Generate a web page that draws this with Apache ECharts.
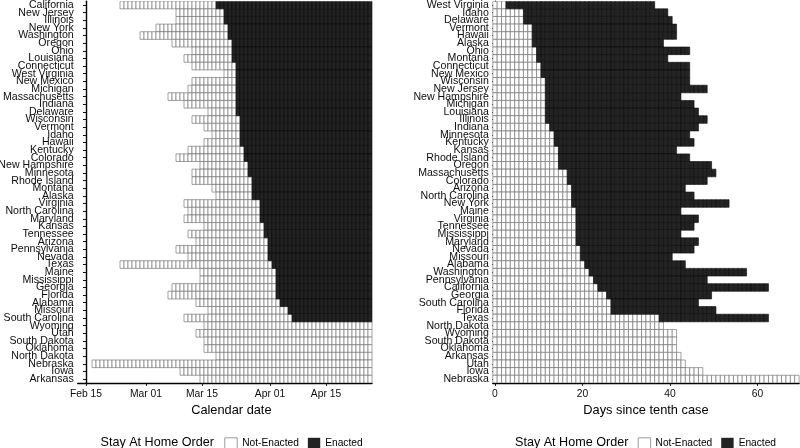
<!DOCTYPE html>
<html>
<head>
<meta charset="utf-8">
<script src="https://cdn.jsdelivr.net/npm/echarts@6/dist/echarts.min.js"></script>
<style>
html,body{margin:0;padding:0;background:#fff;}
#chart{width:800px;height:448px;}
</style>
</head>
<body>
<div id="chart"></div>
<script>
// ---------- DATA ----------
const leftStates = ['California','New Jersey','Illinois','New York','Washington','Oregon','Ohio','Louisiana','Connecticut','West Virginia','New Mexico','Michigan','Massachusetts','Indiana','Delaware','Wisconsin','Vermont','Idaho','Hawaii','Kentucky','Colorado','New Hampshire','Minnesota','Rhode Island','Montana','Alaska','Virginia','North Carolina','Maryland','Kansas','Tennessee','Arizona','Pennsylvania','Nevada','Texas','Maine','Mississippi','Georgia','Florida','Alabama','Missouri','South Carolina','Wyoming','Utah','South Dakota','Oklahoma','North Dakota','Nebraska','Iowa','Arkansas'];

// date of tenth case (same order as leftStates)
const tenthCaseDates = ['2020-02-24','2020-03-09','2020-03-09','2020-03-04','2020-02-29','2020-03-08','2020-03-13','2020-03-11','2020-03-13','2020-03-21','2020-03-13','2020-03-12','2020-03-07','2020-03-11','2020-03-17','2020-03-13','2020-03-16','2020-03-18','2020-03-16','2020-03-12','2020-03-09','2020-03-15','2020-03-13','2020-03-13','2020-03-18','2020-03-19','2020-03-11','2020-03-12','2020-03-11','2020-03-16','2020-03-12','2020-03-14','2020-03-09','2020-03-12','2020-02-24','2020-03-15','2020-03-15','2020-03-08','2020-03-07','2020-03-14','2020-03-17','2020-03-11','2020-03-16','2020-03-14','2020-03-16','2020-03-16','2020-03-19','2020-02-17','2020-03-10','2020-03-15'];

// stay-at-home order date (null = not enacted)
const orderDates = ['2020-03-19','2020-03-21','2020-03-21','2020-03-22','2020-03-22','2020-03-23','2020-03-23','2020-03-23','2020-03-24','2020-03-24','2020-03-24','2020-03-24','2020-03-24','2020-03-24','2020-03-24','2020-03-25','2020-03-25','2020-03-25','2020-03-25','2020-03-26','2020-03-26','2020-03-27','2020-03-27','2020-03-28','2020-03-28','2020-03-28','2020-03-30','2020-03-30','2020-03-30','2020-03-31','2020-03-31','2020-04-01','2020-04-01','2020-04-01','2020-04-02','2020-04-03','2020-04-03','2020-04-03','2020-04-03','2020-04-04','2020-04-06','2020-04-07',null,null,null,null,null,null,null,null];

const lastDate = '2020-04-26';

const rightStates = ['West Virginia','Idaho','Delaware','Vermont','Hawaii','Alaska','Ohio','Montana','Connecticut','New Mexico','Wisconsin','New Jersey','New Hampshire','Michigan','Louisiana','Illinois','Indiana','Minnesota','Kentucky','Kansas','Rhode Island','Oregon','Massachusetts','Colorado','Arizona','North Carolina','New York','Maine','Virginia','Tennessee','Mississippi','Maryland','Nevada','Missouri','Alabama','Washington','Pennsylvania','California','Georgia','South Carolina','Florida','Texas','North Dakota','Wyoming','South Dakota','Oklahoma','Arkansas','Utah','Iowa','Nebraska'];

const dateTickValues = ['2020-02-15','2020-03-01','2020-03-15','2020-04-01','2020-04-15'];
const dateTickLabels = ['Feb 15','Mar 01','Mar 15','Apr 01','Apr 15'];
const dayTickValues = [0, 20, 40, 60];

// ---------- BUILD ----------
const baseTs = Date.UTC(2020, 1, 15);
function dayOf(s) {
  const p = s.split('-').map(Number);
  return Math.round((Date.UTC(p[0], p[1] - 1, p[2]) - baseTs) / 86400000);
}
const endDay = dayOf(lastDate);
const leftNot = [], leftEn = [], rightNot = [], rightEn = [];
leftStates.forEach((st, i) => {
  const T = dayOf(tenthCaseDates[i]);
  const O = orderDates[i] ? dayOf(orderDates[i]) : Infinity;
  for (let d = T; d <= endDay; d++) (d < O ? leftNot : leftEn).push([d, i]);
});
rightStates.forEach((st, r) => {
  const i = leftStates.indexOf(st);
  const T = dayOf(tenthCaseDates[i]);
  const O = orderDates[i] ? dayOf(orderDates[i]) : Infinity;
  for (let k = 0; k <= endDay - T; k++) (T + k < O ? rightNot : rightEn).push([k, r]);
});
const dateTickDays = dateTickValues.map(dayOf);

const FONT = "'Liberation Sans', Arial, Helvetica, sans-serif";
const NOT_STYLE = { fill: '#ffffff', stroke: '#6f6f6f', lineWidth: 0.65 };
const EN_STYLE = { fill: '#232323', stroke: '#0c0c0c', lineWidth: 0.6 };

function tileRenderer(style) {
  return function (params, api) {
    const c = api.coord([api.value(0), api.value(1)]);
    const s = api.size([1, 1]);
    return {
      type: 'rect',
      shape: { x: c[0] - s[0] / 2, y: c[1] - s[1] / 2, width: s[0], height: s[1] },
      style: style
    };
  };
}

const gridTop = 1.2, gridH = 381.7;
const yAxisCommon = {
  type: 'category',
  inverse: true,
  axisLine: { show: true, lineStyle: { color: '#000', width: 1.4 } },
  axisTick: { show: true, alignWithLabel: true, length: 3, lineStyle: { color: '#111', width: 1 } },
  axisLabel: { interval: 0, hideOverlap: false, fontFamily: FONT, fontSize: 10.6, color: '#0d0d0d', margin: 4 },
  splitLine: { show: false }
};
const xAxisCommon = {
  type: 'value',
  axisLine: { show: true, onZero: false, lineStyle: { color: '#000', width: 1.4 } },
  axisTick: { show: true, length: 3, lineStyle: { color: '#111', width: 1 } },
  splitLine: { show: false },
  nameLocation: 'middle',
  nameTextStyle: { fontFamily: FONT, fontSize: 12.8, color: '#000' }
};

const option = {
  animation: false,
  backgroundColor: '#fff',
  title: [
    { text: 'Stay At Home Order', left: 100.5, top: 436, textStyle: { fontFamily: FONT, fontSize: 12.6, fontWeight: 'normal', color: '#000' }, padding: 0 },
    { text: 'Stay At Home Order', left: 515, top: 436, textStyle: { fontFamily: FONT, fontSize: 12.6, fontWeight: 'normal', color: '#000' }, padding: 0 }
  ],
  legend: [
    {
      left: 224.3, top: 437.3, padding: 0, itemWidth: 12.4, itemHeight: 11, itemGap: 9, icon: 'rect', selectedMode: false,
      textStyle: { fontFamily: FONT, fontSize: 10.2, color: '#000' },
      data: [
        { name: 'Not-Enacted', itemStyle: { color: '#fff', borderColor: '#9a9a9a', borderWidth: 1 } },
        { name: 'Enacted', itemStyle: { color: '#232323', borderColor: '#232323', borderWidth: 0 } }
      ]
    },
    {
      left: 637.7, top: 437.3, padding: 0, itemWidth: 12.4, itemHeight: 11, itemGap: 9, icon: 'rect', selectedMode: false,
      textStyle: { fontFamily: FONT, fontSize: 10.2, color: '#000' },
      data: [
        { name: 'Not-Enacted', itemStyle: { color: '#fff', borderColor: '#9a9a9a', borderWidth: 1 } },
        { name: 'Enacted', itemStyle: { color: '#232323', borderColor: '#232323', borderWidth: 0 } }
      ]
    }
  ],
  grid: [
    { left: 77.7, top: gridTop, width: 294.3, height: gridH, containLabel: false, outerBoundsMode: 'none' },
    { left: 492.8, top: gridTop, width: 306.3, height: gridH, containLabel: false, outerBoundsMode: 'none' }
  ],
  xAxis: [
    Object.assign({}, xAxisCommon, {
      gridIndex: 0, min: -2.08, max: 71.5,
      name: 'Calendar date', nameGap: 17.5,
      nameTextStyle: Object.assign({}, xAxisCommon.nameTextStyle, { padding: [0, 0, 0, 13] }),
      axisTick: Object.assign({}, xAxisCommon.axisTick, { customValues: dateTickDays }),
      axisLabel: {
        customValues: dateTickDays, fontFamily: FONT, fontSize: 10.3, color: '#0d0d0d', margin: 6.5,
        formatter: function (v) { const k = dateTickDays.indexOf(Math.round(v)); return k >= 0 ? dateTickLabels[k] : ''; }
      }
    }),
    Object.assign({}, xAxisCommon, {
      gridIndex: 1, min: -0.5, max: 69.5,
      name: 'Days since tenth case', nameGap: 17.5,
      axisTick: Object.assign({}, xAxisCommon.axisTick, { customValues: dayTickValues }),
      axisLabel: { customValues: dayTickValues, fontFamily: FONT, fontSize: 10.3, color: '#0d0d0d', margin: 6.5 }
    })
  ],
  yAxis: [
    Object.assign({}, yAxisCommon, { gridIndex: 0, data: leftStates }),
    Object.assign({}, yAxisCommon, { gridIndex: 1, data: rightStates })
  ],
  series: [
    { name: 'Not-Enacted', type: 'custom', xAxisIndex: 0, yAxisIndex: 0, renderItem: tileRenderer(NOT_STYLE), data: leftNot, clip: true, itemStyle: { color: '#fff', borderColor: '#9a9a9a' } },
    { name: 'Enacted', type: 'custom', xAxisIndex: 0, yAxisIndex: 0, renderItem: tileRenderer(EN_STYLE), data: leftEn, clip: true, itemStyle: { color: '#232323' } },
    { name: 'Not-Enacted', type: 'custom', xAxisIndex: 1, yAxisIndex: 1, renderItem: tileRenderer(NOT_STYLE), data: rightNot, clip: true, itemStyle: { color: '#fff', borderColor: '#9a9a9a' } },
    { name: 'Enacted', type: 'custom', xAxisIndex: 1, yAxisIndex: 1, renderItem: tileRenderer(EN_STYLE), data: rightEn, clip: true, itemStyle: { color: '#232323' } }
  ]
};

const chart = echarts.init(document.getElementById('chart'), null, { renderer: 'canvas', width: 800, height: 448 });
chart.setOption(option);
</script>
</body>
</html>
